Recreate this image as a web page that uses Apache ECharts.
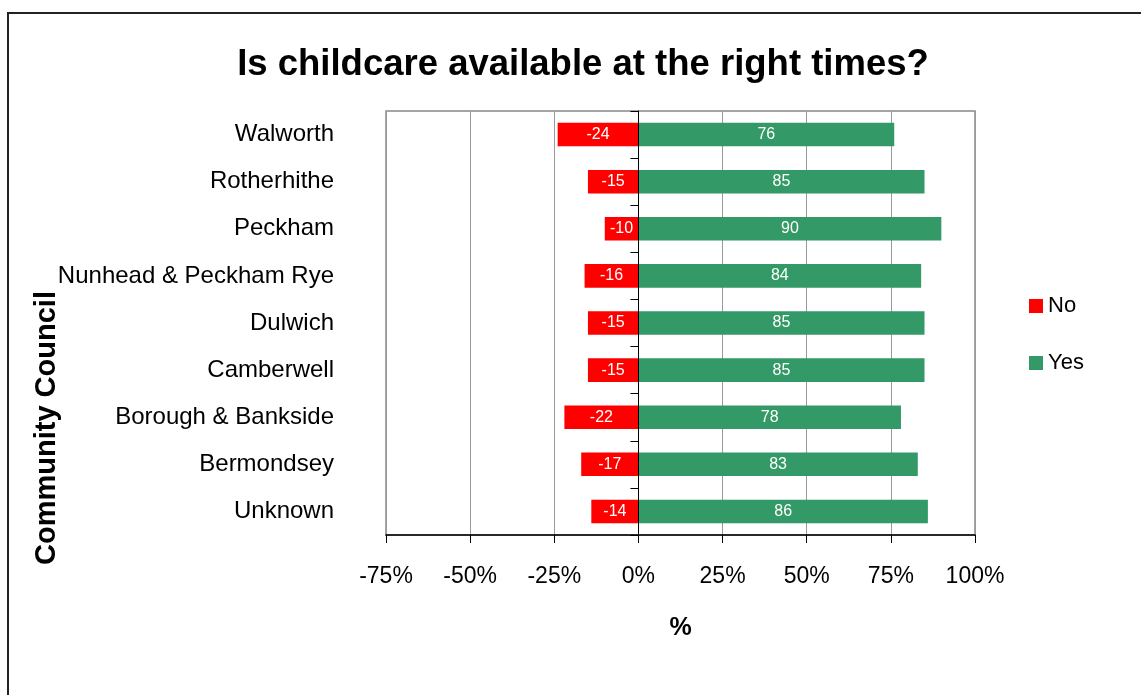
<!DOCTYPE html>
<html>
<head>
<meta charset="utf-8">
<script src="https://cdn.jsdelivr.net/npm/echarts@6/dist/echarts.min.js"></script>
<style>
html,body{margin:0;padding:0;background:#fff;}
#frame{position:absolute;left:7px;top:12px;width:1200px;height:800px;border-left:2px solid #222;border-top:2px solid #222;box-sizing:border-box;}
#chart{position:absolute;left:0;top:0;width:1141px;height:695px;}
</style>
</head>
<body>
<div id="frame"></div>
<div id="chart"></div>
<script>
const categories = ["Walworth","Rotherhithe","Peckham","Nunhead & Peckham Rye","Dulwich","Camberwell","Borough & Bankside","Bermondsey","Unknown"];
const noValues = [-24,-15,-10,-16,-15,-15,-22,-17,-14];
const yesValues = [76,85,90,84,85,85,78,83,86];
const xTicks = {min:-75, max:100, interval:25};

const chart = echarts.init(document.getElementById('chart'), null, {renderer:'canvas'});
const font = '"Liberation Sans", Arial, sans-serif';
chart.setOption({
  backgroundColor: 'transparent',
  animation: false,
  title: {
    text: 'Is childcare available at the right times?',
    left: 578, top: 41, textAlign: 'center',
    textStyle: {fontFamily: font, fontSize: 36.5, fontWeight: 'bold', color: '#000'}
  },
  legend: {
    orient: 'vertical', left: 1024, top: 290,
    itemWidth: 14, itemHeight: 14, itemGap: 35,
    icon: 'rect',
    textStyle: {fontFamily: font, fontSize: 22, color: '#000'},
    data: ['No','Yes']
  },
  grid: {left: 386, right: 166, top: 111, bottom: 160, show: true, borderColor: '#888', borderWidth: 1.5},
  xAxis: {
    type: 'value', min: xTicks.min, max: xTicks.max, interval: xTicks.interval,
    name: '%', nameLocation: 'middle', nameGap: 81,
    nameTextStyle: {fontFamily: font, fontSize: 25, fontWeight: 'bold', color: '#000'},
    axisLine: {show: true, lineStyle: {color: '#000', width: 1.5}},
    axisTick: {show: true, length: 8, lineStyle: {color: '#000'}},
    axisLabel: {formatter: '{value}%', fontFamily: font, fontSize: 23, color: '#000', margin: 30},
    splitLine: {show: true, lineStyle: {color: ['#999','#999','#999','#000','#999','#999','#999','#999'], width: 1}}
  },
  yAxis: [{
    type: 'category', data: categories, inverse: true,
    axisLine: {show: false, onZero: false}, axisTick: {show: false},
    axisLabel: {fontFamily: font, fontSize: 24, color: '#000', margin: 52},
    splitLine: {show: false}
  },{
    type: 'category', data: categories, inverse: true, position: 'left',
    axisLine: {show: true, onZero: true, onZeroAxisIndex: 0, lineStyle: {color: '#000', width: 1}},
    axisTick: {show: true, length: 8, lineStyle: {color: '#000'}},
    axisLabel: {show: false},
    splitLine: {show: false}
  }],
  graphic: [{
    type: 'text', x: 47, y: 428, rotation: Math.PI/2,
    style: {text: 'Community Council', fontFamily: font, fontSize: 29, fontWeight: 'bold', fill: '#000', align: 'center', verticalAlign: 'middle'}
  }],
  series: [{
    name: 'No', type: 'bar', stack: 'total', data: noValues, barWidth: '50%',
    itemStyle: {color: '#FF0000'},
    label: {show: true, position: 'inside', color: '#fff', fontFamily: font, fontSize: 16}
  },{
    name: 'Yes', type: 'bar', stack: 'total', data: yesValues, barWidth: '50%',
    itemStyle: {color: '#339966'},
    label: {show: true, position: 'inside', color: '#fff', fontFamily: font, fontSize: 16},
    markLine: {
      silent: true, symbol: 'none', label: {show: false},
      lineStyle: {color: '#000', width: 1, type: 'solid'},
      data: [{xAxis: 0}]
    }
  }]
});
</script>
</body>
</html>
